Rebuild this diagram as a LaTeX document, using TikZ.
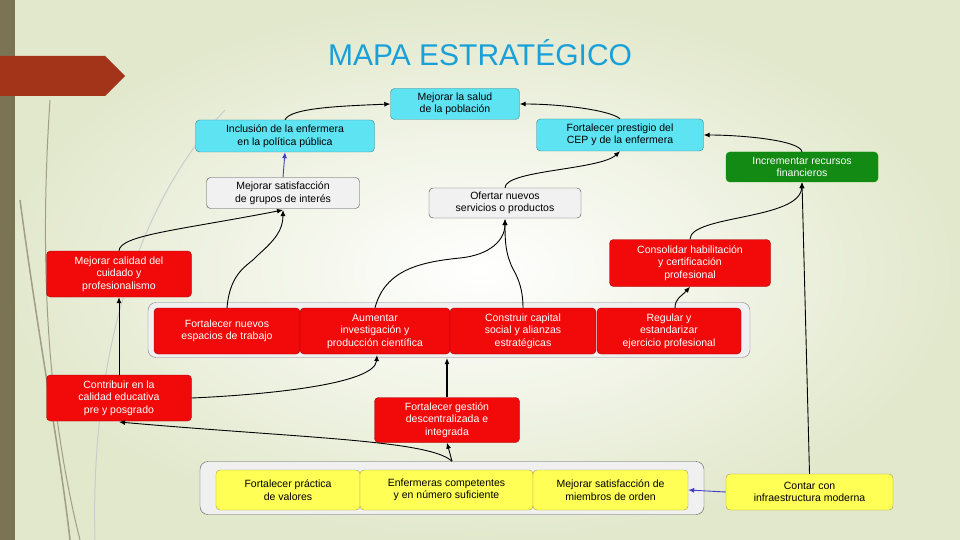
\documentclass[tikz,border=0pt]{standalone}
\usepackage{fontspec}
\setmainfont{Liberation Sans}
\usetikzlibrary{arrows.meta,shapes.geometric}
\definecolor{cy}{HTML}{5EE3F2}
\definecolor{rd}{HTML}{F20A0A}
\definecolor{gn}{HTML}{138A13}
\definecolor{yl}{HTML}{FFFF55}
\definecolor{gy}{HTML}{F1F1F1}
\definecolor{ttl}{HTML}{1AA0D8}
\definecolor{bg}{HTML}{E2E8CC}
\definecolor{bar}{HTML}{7A7354}
\definecolor{arw}{HTML}{A3341A}
\tikzset{
 bx/.style={draw=#1!60!black,rounded corners=4pt,align=center,font=\fontsize{10.5}{12.5}\selectfont,inner sep=1pt},
 cbox/.style={bx=cy,fill=cy},
 rbox/.style={bx=red,fill=rd,text=white},
 gbox/.style={bx=gray,fill=gy},
 ybox/.style={bx=yellow,fill=yl},
 con/.style={-{Latex[length=6pt,width=5pt]},line width=0.9pt},
 bcon/.style={-{Latex[length=6pt,width=5pt]},line width=0.9pt,draw=blue!50!gray},
}
\begin{document}
\begin{tikzpicture}[x=1pt,y=-1pt]
\useasboundingbox (0,0) rectangle (960,540);
\shade[inner color=white,outer color=bg] (0,0) rectangle (960,540);
\fill[bar] (0,0) rectangle (15,540);
\fill[arw] (0,56) -- (105,56) -- (125,76) -- (105,96) -- (0,96) -- cycle;
\draw[bar!70,line width=1pt] (50,100) .. controls (40,250) and (45,400) .. (80,540);
\draw[bar!70,line width=1.5pt] (20,200) .. controls (40,350) and (60,450) .. (70,540);
\draw[gray!40,line width=1pt] (225,110) .. controls (140,200) and (90,350) .. (95,540);
\node[font=\fontsize{30}{32}\selectfont,text=ttl] (title) at (480,53) {MAPA ESTRATÉGICO};

\node[cbox,minimum width=129pt,minimum height=31pt] (salud) at (455,104) {Mejorar la salud\\de la población};
\node[cbox,minimum width=179pt,minimum height=32pt] (incl) at (285,136) {Inclusión de la enfermera\\en la política pública};
\node[cbox,minimum width=167pt,minimum height=32pt] (prest) at (620,135) {Fortalecer prestigio del\\CEP y de la enfermera};
\node[bx=green,fill=gn,text=white,minimum width=152pt,minimum height=30pt] (recur) at (802,167) {Incrementar recursos\\financieros};
\node[gbox,minimum width=153pt,minimum height=31pt] (grupos) at (283,193) {Mejorar satisfacción\\de grupos de interés};
\node[gbox,minimum width=152pt,minimum height=30pt] (ofer) at (505,203) {Ofertar nuevos\\servicios o productos};
\node[rbox,minimum width=145pt,minimum height=46pt] (calid) at (119,274) {Mejorar calidad del\\cuidado y\\profesionalismo};
\node[rbox,minimum width=161pt,minimum height=47pt] (consol) at (690,263) {Consolidar habilitación\\y certificación\\profesional};

\node[draw=gray,fill=gray!12,rounded corners=8pt,minimum width=602pt,minimum height=55pt] (row) at (449,330) {};
\node[rbox,minimum width=146pt,minimum height=46pt] (nuevos) at (227,331) {Fortalecer nuevos\\espacios de trabajo};
\node[rbox,minimum width=150pt,minimum height=46pt] (aumen) at (375,331) {Aumentar\\investigación y\\producción científica};
\node[rbox,minimum width=146pt,minimum height=46pt] (constr) at (523,331) {Construir capital\\social y alianzas\\estratégicas};
\node[rbox,minimum width=144pt,minimum height=46pt] (regul) at (669,331) {Regular y\\estandarizar\\ejercicio profesional};

\node[rbox,minimum width=145pt,minimum height=46pt] (contri) at (119,398) {Contribuir en la\\calidad educativa\\pre y posgrado};
\node[rbox,minimum width=145pt,minimum height=45pt] (gest) at (447,420) {Fortalecer gestión\\descentralizada e\\integrada};

\node[draw=gray!70!black,fill=gray!12,rounded corners=8pt,minimum width=504pt,minimum height=53pt] (bot) at (452,488) {};
\node[ybox,minimum width=144pt,minimum height=40pt] (valor) at (288,490) {Fortalecer práctica\\de valores};
\node[ybox,minimum width=173pt,minimum height=40pt] (enfer) at (446.5,490) {Enfermeras competentes\\y en número suficiente};
\node[ybox,minimum width=155pt,minimum height=40pt] (miemb) at (610.5,490) {Mejorar satisfacción de\\miembros de orden};
\node[ybox,minimum width=167pt,minimum height=36pt] (infra) at (809.5,492) {Contar con\\infraestructura moderna};

\draw[con] (incl.north) .. controls (290,108) and (340,106) .. (salud.west);
\draw[con] (prest.north) .. controls (610,110) and (560,104) .. (salud.east);
\draw[con] (recur.north) .. controls (800,140) and (740,135) .. (prest.east);
\draw[bcon] (grupos.north) -- (incl.south);
\draw[con] (ofer.north) .. controls (505,170) and (600,170) .. (prest.south);
\draw[con] (consol.north) .. controls (690,215) and (800,220) .. (recur.south);
\draw[con] (calid.north) .. controls (120,235) and (180,230) .. (283,210);
\draw[con] (227,308) .. controls (230,270) and (250,265) .. (258,255) .. controls (275,240) and (283,230) .. (283,210);
\draw[con] (aumen.north) .. controls (385,270) and (420,262) .. (460,258) .. controls (490,255) and (505,240) .. (505,219);
\draw[con] (constr.north) .. controls (523,280) and (512,270) .. (510,262) .. controls (505,250) and (505,235) .. (505,219);
\draw[con] (675,308) .. controls (675,298) and (682,296) .. (consol.south);
\draw[con] (contri.north) -- (calid.south);
\draw[con] (contri.east) .. controls (260,395) and (375,385) .. (377,355);
\draw[con,line width=1.8pt] (gest.north) -- (447,358);
\draw[con] (bot.north) -- (gest.south);
\draw[con] (bot.north) .. controls (430,440) and (300,438) .. (119,422);
\draw[con] (infra.north) -- (recur.south);
\draw[bcon] (infra.west) -- (miemb.east);
\end{tikzpicture}
\end{document}
